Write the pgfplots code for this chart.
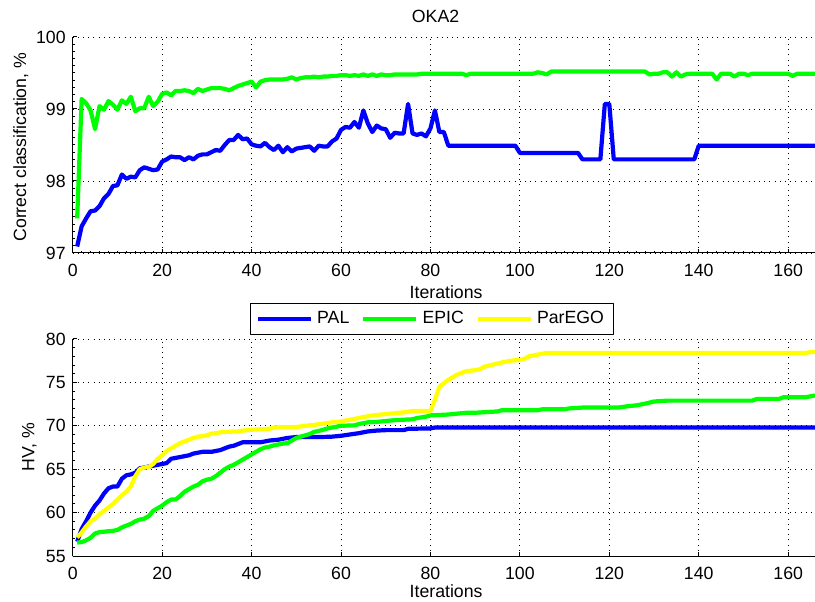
\documentclass[border=0pt]{standalone}
\usepackage{fontspec}
\setmainfont{Liberation Sans}
\usepackage{pgfplots}
\pgfplotsset{compat=1.18}
\definecolor{mblue}{rgb}{0,0,1}
\definecolor{mgreen}{rgb}{0,1,0}
\definecolor{myellow}{rgb}{1,1,0}
\newcommand{\lblfont}{\fontsize{8.85bp}{10bp}\selectfont}
\pgfplotsset{
  mystyle/.style={
    scale only axis,
    width=371.15bp,
    xmin=0, xmax=166,
    axis x line*=bottom, axis y line*=left,
    axis line style={black, line width=0.5bp, -},
    tick align=inside,
    major tick length=2bp, minor tick length=1.2bp,
    every tick/.style={black, line width=0.5bp},
    xmajorgrids, ymajorgrids,
    grid style={black, line width=0.45bp, dash pattern=on 0.5bp off 2.1bp},
    tick label style={font=\lblfont},
    label style={font=\lblfont},
    /pgf/number format/assume math mode=true,
    xtick={0,20,...,160},
    xticklabel style={anchor=base, yshift=-11.8bp},
    line join=round,
    clip mode=individual,
  },
  pline/.style={line width=2.1bp, line join=round},
}
\begin{document}
\begin{tikzpicture}
\path[use as bounding box] (0,0) rectangle (407.5bp,301bp);
% ---------------- top axis ----------------
\begin{axis}[mystyle,
  at={(36.35bp,174.5bp)}, anchor=south west,
  height=108bp,
  ymin=97, ymax=100, ytick={97,98,99,100},
  minor x tick num=9, minor y tick num=9,
  xlabel={Iterations},
  xlabel style={at={(axis description cs:0.503,-0.2097)}, anchor=base},
  ylabel={Correct classification, \%},
  ylabel style={at={(axis description cs:-0.0629,0.49)}, anchor=base},
]
\addplot[pline, mgreen] coordinates {
(1,97.48) (2,99.14) (3,99.08) (4,98.98) (5,98.72) (6,99.04) (7,98.99) (8,99.11) (9,99.06) (10,98.99)
(11,99.12) (12,99.07) (13,99.17) (14,98.97) (15,99.01) (16,99.01) (17,99.17) (18,99.04) (19,99.10) (20,99.21)
(21,99.23) (22,99.19) (23,99.25) (24,99.25) (25,99.26) (26,99.25) (27,99.22) (28,99.28) (29,99.25) (30,99.27)
(31,99.29) (32,99.29) (33,99.29) (34,99.28) (35,99.26) (36,99.29) (37,99.32) (38,99.34) (39,99.36) (40,99.38)
(41,99.30) (42,99.38) (43,99.40) (44,99.41) (45,99.41) (46,99.41) (47,99.41) (48,99.42) (49,99.44) (50,99.41)
(51,99.43) (52,99.44) (53,99.44) (54,99.45) (55,99.44) (56,99.45) (57,99.45) (58,99.46) (59,99.46) (60,99.47)
(61,99.47) (62,99.46) (63,99.47) (64,99.46) (65,99.48) (66,99.46) (67,99.48) (68,99.46) (69,99.48) (70,99.47)
(71,99.47) (72,99.48) (73,99.48) (74,99.48) (75,99.48) (76,99.48) (77,99.48) (78,99.49) (80,99.49) (85,99.49)
(87,99.49) (88,99.47) (89,99.49) (95,99.49) (100,99.49) (103,99.49) (104,99.51) (105,99.50) (106,99.48) (107,99.52)
(115,99.52) (120,99.52) (128,99.52) (129,99.48) (130,99.49) (131,99.49) (132,99.51) (133,99.51) (134,99.45) (135,99.51)
(136,99.45) (137,99.48) (138,99.49) (142,99.49) (143,99.49) (144,99.41) (145,99.49) (147,99.49) (148,99.45) (149,99.49)
(150,99.49) (151,99.47) (152,99.49) (160,99.49) (161,99.46) (162,99.49) (166,99.49)
};
\addplot[pline, mblue] coordinates {
(1,97.09) (2,97.37) (3,97.48) (4,97.58) (5,97.59) (6,97.65) (7,97.76) (8,97.82) (9,97.93) (10,97.94)
(11,98.09) (12,98.03) (13,98.06) (14,98.05) (15,98.15) (16,98.19) (17,98.17) (18,98.15) (19,98.16) (20,98.27)
(21,98.30) (22,98.34) (23,98.33) (24,98.33) (25,98.29) (26,98.33) (27,98.30) (28,98.35) (29,98.37) (30,98.37)
(31,98.40) (32,98.43) (33,98.42) (34,98.50) (35,98.57) (36,98.57) (37,98.64) (38,98.58) (39,98.59) (40,98.51)
(41,98.49) (42,98.48) (43,98.53) (44,98.47) (45,98.43) (46,98.49) (47,98.40) (48,98.47) (49,98.41) (50,98.45)
(51,98.46) (52,98.47) (53,98.48) (54,98.42) (55,98.49) (56,98.48) (57,98.48) (58,98.55) (59,98.59) (60,98.71)
(61,98.75) (62,98.74) (63,98.82) (64,98.74) (65,98.98) (66,98.80) (67,98.68) (68,98.77) (69,98.73) (70,98.72)
(71,98.60) (72,98.67) (73,98.66) (74,98.66) (75,99.07) (76,98.66) (77,98.64) (78,98.66) (79,98.62) (80,98.73)
(81,98.98) (82,98.68) (83,98.68) (84,98.49) (99,98.49) (100,98.39) (113,98.39) (114,98.30) (118,98.30) (119,99.07)
(120,99.07) (121,98.30) (139,98.30) (140,98.49) (166,98.49)
};
\node[font=\lblfont, anchor=base, inner sep=0pt] at (axis description cs:0.4888,1.066) {OKA2};
\end{axis}
% ---------------- bottom axis ----------------
\begin{axis}[mystyle,
  at={(36.35bp,23bp)}, anchor=south west,
  height=108.5bp,
  ymin=55, ymax=80, ytick={55,60,...,80},
  minor y tick num=4,
  xlabel={Iterations},
  xlabel style={at={(axis description cs:0.503,-0.1935)}, anchor=base},
  ylabel={HV, \%},
  ylabel style={at={(axis description cs:-0.0517,0.5)}, anchor=base},
  legend columns=3,
  legend style={at={(axis description cs:0.484,1.092)}, anchor=center,
    draw=black, line width=0.5bp, font=\lblfont,
    inner xsep=3bp, inner ysep=2bp,
    /tikz/every even column/.append style={column sep=4bp}},
  legend image code/.code={\draw[#1, line width=2.1bp] (0bp,0bp) -- (26.5bp,0bp);},
]
\addplot[pline, mblue] coordinates {
(1,56.65) (2,58.1) (3,59.0) (4,60.0) (5,60.8) (6,61.4) (7,62.2) (8,62.8) (9,63.0) (10,63.0)
(11,63.9) (12,64.3) (13,64.4) (14,64.6) (15,65.1) (16,65.2) (17,65.3) (18,65.4) (19,65.5) (20,65.6)
(21,65.7) (22,66.2) (23,66.3) (24,66.4) (25,66.5) (26,66.6) (27,66.8) (28,66.9) (29,67.0) (31,67.0)
(32,67.1) (33,67.2) (34,67.4) (35,67.6) (36,67.7) (37,67.9) (38,68.1) (42,68.1) (43,68.2) (44,68.3)
(45,68.35) (46,68.4) (47,68.5) (48,68.6) (49,68.65) (50,68.7) (55,68.7) (58,68.75) (60,68.85) (62,69.0)
(64,69.15) (66,69.35) (68,69.45) (70,69.5) (74,69.5) (75,69.65) (80,69.7) (81,69.8) (166,69.8)
};
\addlegendentry{PAL}
\addplot[pline, mgreen] coordinates {
(1,56.55) (2,56.6) (3,56.8) (4,57.1) (5,57.6) (6,57.75) (7,57.8) (8,57.85) (9,57.9) (10,58.0)
(11,58.3) (12,58.5) (13,58.7) (14,59.0) (15,59.2) (16,59.3) (17,59.6) (18,60.2) (19,60.5) (20,60.8)
(21,61.2) (22,61.5) (23,61.5) (24,61.9) (25,62.4) (26,62.7) (27,63.0) (28,63.2) (29,63.6) (30,63.8)
(31,63.9) (32,64.2) (33,64.6) (34,65.0) (35,65.3) (36,65.5) (37,65.8) (38,66.1) (39,66.4) (40,66.7)
(41,67.0) (42,67.3) (43,67.5) (44,67.6) (45,67.75) (46,67.85) (47,67.95) (48,68.0) (49,68.3) (50,68.6)
(51,68.75) (52,68.9) (53,69.05) (54,69.3) (55,69.4) (56,69.55) (57,69.7) (58,69.8) (59,69.9) (60,70.0)
(63,70.05) (64,70.2) (66,70.4) (68,70.45) (70,70.55) (72,70.65) (74,70.7) (76,70.75) (77,70.9) (79,71.05)
(80,71.2) (82,71.25) (84,71.3) (86,71.4) (88,71.5) (90,71.5) (93,71.6) (95,71.65) (96,71.8) (104,71.8)
(105,71.9) (110,71.9) (111,72.0) (114,72.1) (122,72.1) (124,72.25) (126,72.35) (128,72.55) (130,72.8) (133,72.9)
(152,72.9) (153,73.1) (158,73.1) (159,73.3) (164,73.3) (166,73.5)
};
\addlegendentry{EPIC}
\addplot[pline, myellow] coordinates {
(1,57.15) (2,57.7) (3,58.4) (4,59.0) (5,59.3) (6,59.8) (7,60.2) (8,60.6) (9,61.0) (10,61.5)
(11,62.0) (12,62.4) (13,63.0) (14,64.2) (15,65.0) (16,65.2) (17,65.25) (18,65.6) (19,66.2) (20,66.6)
(21,67.1) (22,67.4) (23,67.7) (24,68.0) (25,68.2) (26,68.4) (27,68.6) (28,68.75) (29,68.8) (30,68.9)
(31,69.1) (32,69.15) (33,69.25) (34,69.3) (35,69.3) (36,69.35) (37,69.35) (38,69.45) (39,69.5) (40,69.55)
(42,69.6) (44,69.65) (45,69.8) (46,69.85) (50,69.85) (52,70.0) (54,70.1) (56,70.25) (58,70.4) (60,70.5)
(62,70.7) (64,70.9) (66,71.1) (68,71.25) (70,71.35) (72,71.45) (74,71.55) (76,71.7) (80,71.7) (81,73.0)
(82,74.5) (83,74.9) (84,75.3) (85,75.6) (86,75.9) (87,76.1) (88,76.3) (90,76.4) (91,76.5) (92,76.8)
(94,77.05) (96,77.3) (98,77.5) (100,77.6) (101,77.7) (102,78.0) (103,78.1) (105,78.3) (106,78.4) (164,78.4)
(165,78.5) (166,78.5)
};
\addlegendentry{ParEGO}
\end{axis}
\end{tikzpicture}
\end{document}
